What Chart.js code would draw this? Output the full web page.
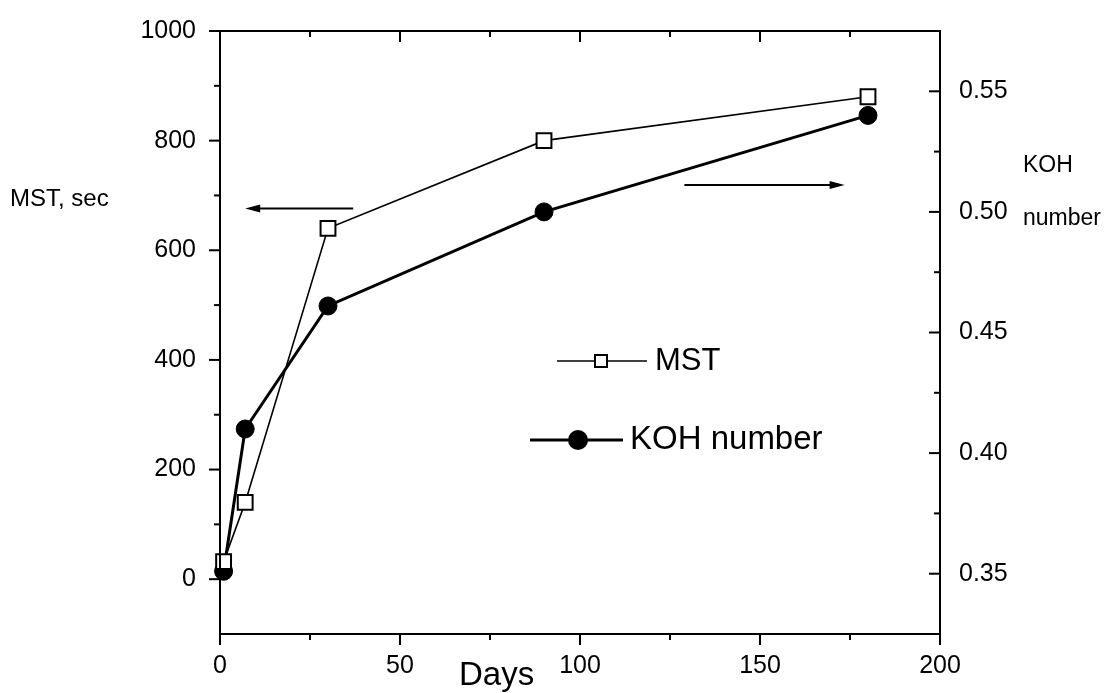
<!DOCTYPE html>
<html>
<head>
<meta charset="utf-8">
<script src="https://cdn.jsdelivr.net/npm/chart.js@4.4.1/dist/chart.umd.min.js"></script>
<style>
  html, body { margin: 0; padding: 0; background: #fff; }
  #wrap { width: 1112px; height: 693px; position: relative; }
</style>
</head>
<body>
<div id="wrap"><canvas id="chart"></canvas></div>
<script>
// data
var days = [1, 7, 30, 90, 180];
var mst = [32, 140, 640, 800, 880];
var koh = [0.351, 0.410, 0.461, 0.500, 0.540];

// axis ticks
var xMajor = [0, 50, 100, 150, 200];
var xMinor = [25, 75, 125, 175];
var yMajor = [0, 200, 400, 600, 800, 1000];
var yMinor = [100, 300, 500, 700, 900];
var y2Major = [0.35, 0.40, 0.45, 0.50, 0.55];
var y2Minor = [0.375, 0.425, 0.475, 0.525];

// arrows: [day from, day to, value, axis]
var arrowLeft = [37, 7, 676, 'y'];
var arrowRight = [129, 173.5, 0.5112, 'y2'];

var FONT = '"Liberation Sans", Arial, sans-serif';

function pts(ys) {
  return days.map(function (d, i) { return { x: d, y: ys[i] }; });
}

function setTicks(values) {
  return function (s) { s.ticks = values.map(function (v) { return { value: v }; }); };
}

function arrow(ctx, x1, y1, x2, y2) {
  var dir = x2 > x1 ? 1 : -1;
  ctx.beginPath();
  ctx.moveTo(x1, y1);
  ctx.lineTo(x2 - dir * 10, y2);
  ctx.stroke();
  ctx.beginPath();
  ctx.moveTo(x2, y2);
  ctx.lineTo(x2 - dir * 15, y2 - 4);
  ctx.lineTo(x2 - dir * 15, y2 + 4);
  ctx.closePath();
  ctx.fill();
}

var extras = {
  id: 'extras',
  afterDraw: function (chart) {
    var ctx = chart.ctx;
    var a = chart.chartArea;
    var sx = chart.scales.x, sy = chart.scales.y, sy2 = chart.scales.y2;
    ctx.save();
    ctx.strokeStyle = '#000';
    ctx.fillStyle = '#000';

    // frame
    ctx.lineWidth = 2;
    ctx.strokeRect(a.left, a.top, a.right - a.left, a.bottom - a.top);

    // ticks
    function tick(x1, y1, x2, y2) {
      ctx.beginPath(); ctx.moveTo(x1, y1); ctx.lineTo(x2, y2); ctx.stroke();
    }
    xMajor.forEach(function (v) {
      var p = sx.getPixelForValue(v);
      tick(p, a.bottom, p, a.bottom + 11);
      tick(p, a.top, p, a.top + 11);
    });
    xMinor.forEach(function (v) {
      var p = sx.getPixelForValue(v);
      tick(p, a.bottom, p, a.bottom + 6);
      tick(p, a.top, p, a.top + 6);
    });
    yMajor.forEach(function (v) {
      var p = sy.getPixelForValue(v);
      tick(a.left, p, a.left - 11, p);
    });
    yMinor.forEach(function (v) {
      var p = sy.getPixelForValue(v);
      tick(a.left, p, a.left - 6, p);
    });
    y2Major.forEach(function (v) {
      var p = sy2.getPixelForValue(v);
      tick(a.right, p, a.right - 11, p);
    });
    y2Minor.forEach(function (v) {
      var p = sy2.getPixelForValue(v);
      tick(a.right, p, a.right - 6, p);
    });

    // arrows
    ctx.lineWidth = 2;
    [arrowLeft, arrowRight].forEach(function (ar) {
      var s = chart.scales[ar[3]];
      var yy = s.getPixelForValue(ar[2]);
      arrow(ctx, sx.getPixelForValue(ar[0]), yy, sx.getPixelForValue(ar[1]), yy);
    });

    // axis titles
    ctx.textBaseline = 'middle';
    ctx.textAlign = 'left';
    ctx.font = '24px ' + FONT;
    ctx.fillText('MST, sec', 10, 199);
    ctx.font = '23px ' + FONT;
    ctx.fillText('KOH', 1023, 166);
    ctx.fillText('number', 1023, 219);
    ctx.font = '33px ' + FONT;
    ctx.fillText('Days', 459, 676);

    // legend
    var ds = chart.data.datasets;
    // MST
    ctx.lineWidth = ds[0].borderWidth;
    tick(557, 361, 647, 361);
    ctx.fillStyle = '#fff';
    ctx.fillRect(595, 355, 12, 12);
    ctx.lineWidth = 2;
    ctx.strokeRect(595, 355, 12, 12);
    ctx.fillStyle = '#000';
    ctx.font = '31px ' + FONT;
    ctx.fillText(ds[0].label, 655, 361);
    // KOH
    ctx.lineWidth = ds[1].borderWidth;
    tick(530, 440, 623, 440);
    ctx.beginPath();
    ctx.arc(578, 440, 10, 0, Math.PI * 2);
    ctx.fill();
    ctx.font = '33px ' + FONT;
    ctx.fillText(ds[1].label, 630, 440);

    ctx.restore();
  }
};

new Chart(document.getElementById('chart'), {
  type: 'line',
  data: {
    datasets: [
      {
        label: 'MST',
        data: pts(mst),
        yAxisID: 'y',
        borderColor: '#000',
        borderWidth: 1.6,
        pointStyle: 'rect',
        pointRadius: 10.5,
        pointBorderWidth: 2,
        pointBackgroundColor: '#fff',
        pointBorderColor: '#000',
        clip: false,
        tension: 0
      },
      {
        label: 'KOH number',
        data: pts(koh),
        yAxisID: 'y2',
        borderColor: '#000',
        borderWidth: 3,
        pointStyle: 'circle',
        pointRadius: 9,
        pointBorderWidth: 1,
        pointBackgroundColor: '#000',
        pointBorderColor: '#000',
        clip: false,
        tension: 0
      }
    ]
  },
  options: {
    responsive: true,
    maintainAspectRatio: false,
    animation: false,
    layout: { padding: { top: 23, left: 0, right: 0, bottom: 0 } },
    plugins: {
      legend: { display: false },
      tooltip: { enabled: false }
    },
    scales: {
      x: {
        type: 'linear',
        position: 'bottom',
        min: 0,
        max: 200,
        grid: { display: false },
        border: { display: false },
        afterBuildTicks: setTicks(xMajor),
        ticks: {
          padding: 9,
          color: '#000',
          font: { family: FONT, size: 25 },
          callback: function (v) { return String(v); }
        },
        afterFit: function (s) { s.height = 59; }
      },
      y: {
        position: 'left',
        min: -100,
        max: 1000,
        grid: { display: false },
        border: { display: false },
        afterBuildTicks: setTicks(yMajor),
        ticks: {
          padding: 16,
          color: '#000',
          font: { family: FONT, size: 25 },
          callback: function (v) { return String(v); }
        },
        afterFit: function (s) { s.width = 220; }
      },
      y2: {
        position: 'right',
        min: 0.325,
        max: 0.575,
        grid: { display: false },
        border: { display: false },
        afterBuildTicks: setTicks(y2Major),
        ticks: {
          padding: 11,
          color: '#000',
          font: { family: FONT, size: 25 },
          callback: function (v) { return v.toFixed(2); }
        },
        afterFit: function (s) { s.width = 172; }
      }
    }
  },
  plugins: [extras]
});
</script>
</body>
</html>
